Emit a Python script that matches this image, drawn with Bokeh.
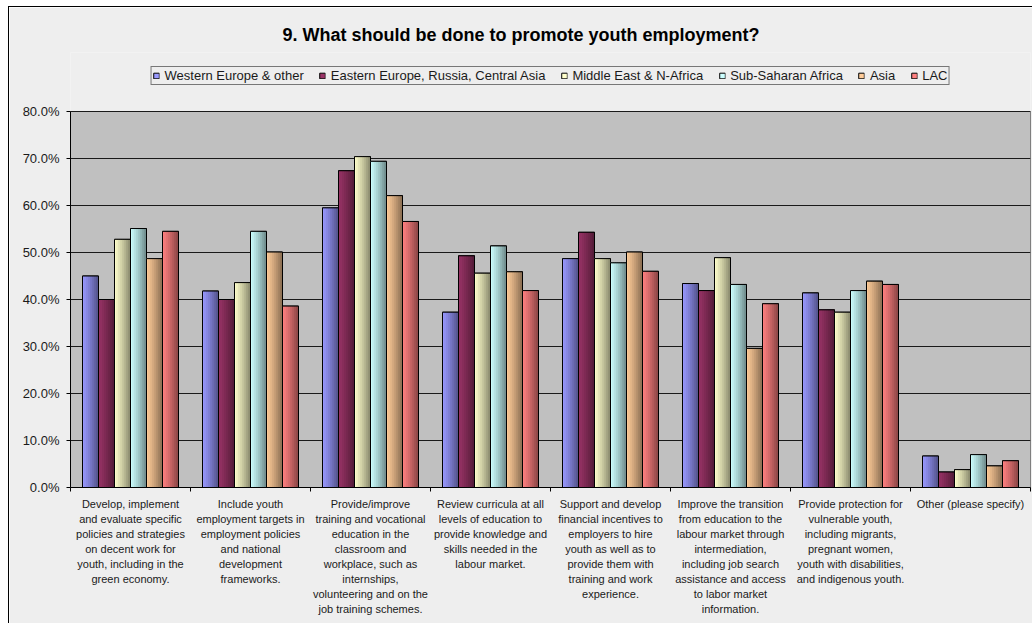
from bokeh.plotting import figure
from bokeh.models import (FixedTicker, NumeralTickFormatter, Legend,
                          LegendItem, Title, Range1d)
from bokeh.embed import file_html
from bokeh.resources import INLINE

# ---------------- data ----------------
title_text = "9. What should be done to promote youth employment?"
categories = [
    "Develop, implement\nand evaluate specific\npolicies and strategies\non decent work for\nyouth, including in the\ngreen economy.",
    "Include youth\nemployment targets in\nemployment policies\nand national\ndevelopment\nframeworks.",
    "Provide/improve\ntraining and vocational\neducation in the\nclassroom and\nworkplace, such as\ninternships,\nvolunteering and on the\njob training schemes.",
    "Review curricula at all\nlevels of education to\nprovide knowledge and\nskills needed in the\nlabour market.",
    "Support and develop\nfinancial incentives to\nemployers to hire\nyouth as well as to\nprovide them with\ntraining and work\nexperience.",
    "Improve the transition\nfrom education to the\nlabour market through\nintermediation,\nincluding job search\nassistance and access\nto labor market\ninformation.",
    "Provide protection for\nvulnerable youth,\nincluding migrants,\npregnant women,\nyouth with disabilities,\nand indigenous youth.",
    "Other (please specify)",
]
series_names = ["Western Europe & other", "Eastern Europe, Russia, Central Asia",
                "Middle East & N-Africa", "Sub-Saharan Africa", "Asia", "LAC"]
western_europe = [45.0, 41.8, 59.5, 37.3, 48.7, 43.4, 41.4, 6.7]
eastern_europe = [40.0, 40.0, 67.4, 49.3, 54.3, 41.9, 37.8, 3.3]
middle_east_n_africa = [52.8, 43.6, 70.4, 45.6, 48.7, 48.9, 37.3, 3.8]
sub_saharan_africa = [55.1, 54.5, 69.4, 51.4, 47.8, 43.2, 41.9, 7.0]
asia = [48.7, 50.1, 62.1, 45.9, 50.1, 29.6, 43.9, 4.6]
lac = [54.5, 38.6, 56.6, 41.9, 46.0, 39.1, 43.2, 5.7]
y_ticks = [0.0, 0.1, 0.2, 0.3, 0.4, 0.5, 0.6, 0.7, 0.8]

series_values = [western_europe, eastern_europe, middle_east_n_africa,
                 sub_saharan_africa, asia, lac]
colors = ["#9999FF", "#993366", "#FFFFCC", "#CCFFFF", "#FFCC99", "#FF8080"]

FONT = "Liberation Sans"
TXT = "#1a1a1a"

def shade(hexcol, f):
    h = hexcol.lstrip("#")
    r, g, b = (int(h[i:i + 2], 16) for i in (0, 2, 4))
    return "#%02x%02x%02x" % tuple(max(0, min(255, int(round(c * f)))) for c in (r, g, b))

n_cat = len(categories)
y_top = y_ticks[-1]
FRAME_H = 435
PLOT_H = 376          # pixel height of the 0..80% plot area
y_end = y_top * FRAME_H / PLOT_H

p = figure(frame_width=960, frame_height=FRAME_H,
           x_range=Range1d(0, n_cat), y_range=Range1d(0, y_end),
           output_backend="svg", toolbar_location=None, title=None,
           min_border_left=61, min_border_right=2, min_border_top=45, min_border_bottom=136,
           background_fill_color="#EEEEEE", border_fill_color="#EEEEEE",
           outline_line_color=None)
p.margin = (6, 0, 0, 8)
p.styles = {"border-left": "1px solid #000", "border-top": "1px solid #000"}

# plot area and gridlines
p.quad(left=0, right=n_cat, bottom=0, top=y_top, fill_color="#C0C0C0",
       line_color="#1a1a1a", line_width=1)
p.segment(x0=[0] * len(y_ticks), x1=[n_cat] * len(y_ticks), y0=y_ticks, y1=y_ticks,
          line_color="#1a1a1a", line_width=1)

bar_w = 1.0 / 7.5
N = 8
centers = [i + 0.5 for i in range(n_cat)]
items = []
for k, (name, vals, col) in enumerate(zip(series_names, series_values, colors)):
    tops = [v / 100.0 for v in vals]
    xk = [c + (k - 2.5) * bar_w for c in centers]
    base = p.vbar(x=xk, top=tops, width=bar_w, bottom=0, fill_color=col,
                  line_color="#000000", line_width=1)
    for j in range(N):
        t = (j + 0.5) / N
        f = 1.0 - 0.47 * t ** 1.2
        xs = [x - bar_w / 2 + (j + 0.5) * bar_w / N for x in xk]
        p.vbar(x=xs, top=tops, width=bar_w / N * 1.35, bottom=0,
               fill_color=shade(col, f), line_color=None)
    p.vbar(x=xk, top=tops, width=bar_w, bottom=0, fill_color=None,
           line_color="#000000", line_width=1)
    items.append(LegendItem(label=name, renderers=[base]))

# axes
p.xgrid.visible = False
p.ygrid.visible = False

ya = p.yaxis[0]
ya.ticker = FixedTicker(ticks=y_ticks)
ya.bounds = (0, y_top)
ya.formatter = NumeralTickFormatter(format="0.0%")
ya.major_tick_out = 4
ya.major_tick_in = 0
ya.minor_tick_out = 0
ya.axis_line_color = "#000000"
ya.major_tick_line_color = "#000000"
ya.major_label_standoff = 7
ya.major_label_text_font = FONT
ya.major_label_text_font_size = "13px"
ya.major_label_text_color = TXT

xa = p.xaxis[0]
xa.ticker = FixedTicker(ticks=centers, minor_ticks=list(range(n_cat + 1)))
xa.major_label_overrides = {c: lab for c, lab in zip(centers, categories)}
xa.major_tick_out = 0
xa.major_tick_in = 0
xa.minor_tick_out = 4
xa.minor_tick_in = 0
xa.minor_tick_line_color = "#000000"
xa.axis_line_color = "#000000"
xa.major_label_standoff = 6
xa.major_label_text_font = FONT
xa.major_label_text_font_size = "11px"
xa.major_label_text_line_height = 1.26
xa.major_label_text_color = TXT
xa.major_label_text_align = "center"

legend = Legend(items=items, orientation="horizontal", location="top_center",
                glyph_width=7, glyph_height=7, label_standoff=5, spacing=15,
                padding=1, margin=14, label_height=10,
                label_text_font=FONT, label_text_font_size="13px", label_text_color=TXT,
                border_line_color="#000000", border_line_width=1,
                background_fill_color="#EEEEEE", background_fill_alpha=1.0)
p.add_layout(legend, "center")

ttl = Title(text=title_text, align="left", offset=212, text_font=FONT,
            text_font_size="18px", text_font_style="bold", text_color="#000000",
            standoff=15)
p.add_layout(ttl, "above")

open("out.html", "w").write(file_html(p, INLINE))
